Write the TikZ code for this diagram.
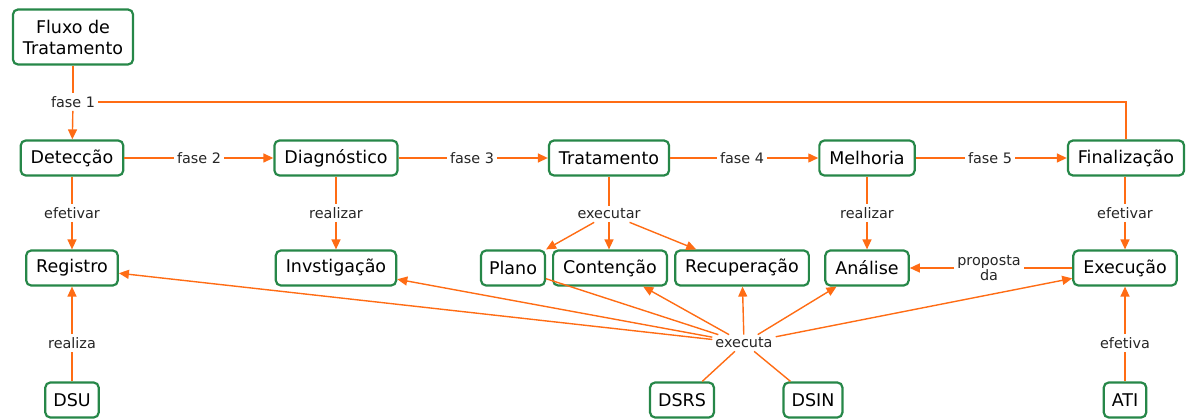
\documentclass[tikz,border=0pt]{standalone}
\usepackage{fontspec}
\setmainfont{DejaVu Sans}
\usetikzlibrary{arrows.meta}
\definecolor{boxgreen}{RGB}{38,135,72}
\definecolor{linkorange}{RGB}{255,108,20}
\tikzset{
  concept/.style={draw=boxgreen,line width=2.2pt,rounded corners=5pt,fill=white,
    inner xsep=10pt,inner ysep=0pt,minimum height=35pt,align=center,
    font=\fontsize{17.5}{21}\selectfont},
  phrase/.style={inner sep=3pt,align=center,text=black!85,
    font=\fontsize{14.4}{15.5}\selectfont},
  link/.style={draw=linkorange,line width=1.4pt},
  arrow/.style={link,-{Triangle[length=10pt,width=9pt]}}
}
\begin{document}
\begin{tikzpicture}[x=1pt,y=-1pt]
  \useasboundingbox (0,0) rectangle (1188,419);
  % concepts
  \node[concept,minimum height=55pt] (fluxo) at (73,37) {Fluxo de\\Tratamento};
  \node[concept] (deteccao) at (72,158) {Detecção};
  \node[concept] (diagnostico) at (336,158) {Diagnóstico};
  \node[concept] (tratamento) at (609,158) {Tratamento};
  \node[concept] (melhoria) at (867,158) {Melhoria};
  \node[concept] (finalizacao) at (1126,158) {Finalização};
  \node[concept] (registro) at (72,268) {Registro};
  \node[concept] (investigacao) at (336,268) {Invstigação};
  \node[concept,inner xsep=8pt] (plano) at (513,268) {Plano};
  \node[concept] (contencao) at (610,268) {Contenção};
  \node[concept] (recuperacao) at (742,268) {Recuperação};
  \node[concept] (analise) at (867,268) {Análise};
  \node[concept] (execucao) at (1125,268) {Execução};
  \node[concept,inner xsep=8pt] (dsu) at (72,400) {DSU};
  \node[concept,inner xsep=8pt] (dsrs) at (682,400) {DSRS};
  \node[concept,inner xsep=8pt] (dsin) at (813,400) {DSIN};
  \node[concept,inner xsep=8pt] (ati) at (1125,400) {ATI};
  % linking phrases
  \node[phrase] (fase1) at (73,102) {fase 1};
  \node[phrase] (fase2) at (199,158) {fase 2};
  \node[phrase] (fase3) at (472,158) {fase 3};
  \node[phrase] (fase4) at (742,158) {fase 4};
  \node[phrase] (fase5) at (990,158) {fase 5};
  \node[phrase] (efetivar1) at (72,213) {efetivar};
  \node[phrase] (realizar1) at (336,213) {realizar};
  \node[phrase] (executar) at (609,214) {executar};
  \node[phrase] (realizar2) at (867,213) {realizar};
  \node[phrase] (efetivar2) at (1125,213) {efetivar};
  \node[phrase] (proposta) at (989,268) {proposta\\da};
  \node[phrase] (realiza) at (72,343) {realiza};
  \node[phrase] (executa) at (744,343) {executa};
  \node[phrase] (efetiva) at (1125,343) {efetiva};
  % phases
  \draw[link] (fluxo) -- (fase1);
  \draw[arrow] (fase1) -- (deteccao);
  \draw[link] (finalizacao) |- (fase1);
  \draw[link] (deteccao) -- (fase2);
  \draw[arrow] (fase2) -- (diagnostico);
  \draw[link] (diagnostico) -- (fase3);
  \draw[arrow] (fase3) -- (tratamento);
  \draw[link] (tratamento) -- (fase4);
  \draw[arrow] (fase4) -- (melhoria);
  \draw[link] (melhoria) -- (fase5);
  \draw[arrow] (fase5) -- (finalizacao);
  % second row
  \draw[link] (deteccao) -- (efetivar1);
  \draw[arrow] (efetivar1) -- (registro);
  \draw[link] (diagnostico) -- (realizar1);
  \draw[arrow] (realizar1) -- (investigacao);
  \draw[link] (tratamento) -- (executar);
  \draw[arrow] (executar) -- (plano);
  \draw[arrow] (executar) -- (contencao.north -| executar);
  \draw[arrow] (executar) -- (recuperacao);
  \draw[link] (melhoria) -- (realizar2);
  \draw[arrow] (realizar2) -- (analise);
  \draw[link] (finalizacao.south -| efetivar2) -- (efetivar2);
  \draw[arrow] (efetivar2) -- (execucao);
  \draw[link] (execucao) -- (proposta);
  \draw[arrow] (proposta) -- (analise);
  % actors
  \draw[link] (dsu) -- (realiza);
  \draw[arrow] (realiza) -- (registro);
  \draw[link] (ati) -- (efetiva);
  \draw[arrow] (efetiva) -- (execucao);
  \draw[link] (dsrs) -- (executa);
  \draw[link] (dsin) -- (executa);
  \draw[link] (plano) -- (executa);
  \draw[arrow] (executa) -- (registro);
  \draw[arrow] (executa) -- (investigacao);
  \draw[arrow] (executa) -- (contencao);
  \draw[arrow] (executa) -- (recuperacao);
  \draw[arrow] (executa) -- (analise);
  \draw[arrow] (executa) -- (execucao);
\end{tikzpicture}
\end{document}
